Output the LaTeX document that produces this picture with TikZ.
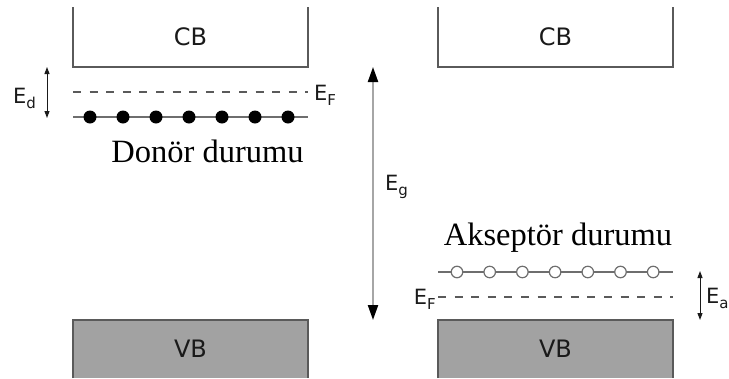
\documentclass[tikz,border=0pt]{standalone}
\usepackage{fontspec}
\setmainfont{Liberation Serif}
\newfontfamily\labelfont{DejaVu Sans}
\usetikzlibrary{arrows.meta}

\definecolor{bandline}{HTML}{5A5A5A}
\definecolor{vbfill}{HTML}{A2A2A2}
\definecolor{levelline}{HTML}{6E6E6E}
\definecolor{txt}{HTML}{1A1A1A}

\newcommand{\lvl}[2]{{\labelfont\fontsize{21}{21}\selectfont #1\raisebox{-5pt}{\fontsize{15}{15}\selectfont #2}}}

\tikzset{
  bandlabel/.style={font=\labelfont\fontsize{24}{24}\selectfont, text=txt, inner sep=0pt},
  openband/.style={draw=bandline, line width=1.4pt},
  fullband/.style={draw=bandline, fill=vbfill, line width=1.2pt},
  fermi/.style={draw=bandline, line width=1.2pt, dash pattern=on 8pt off 8.6pt},
  level/.style={draw=levelline, line width=1.5pt},
  donor/.style={circle, fill=black, minimum size=13pt, inner sep=0pt},
  acceptor/.style={circle, draw=levelline, fill=white, line width=1.2pt, minimum size=11.5pt, inner sep=0pt},
  caption/.style={font=\fontsize{32.5}{32.5}\selectfont, text=black, inner sep=0pt, anchor=base},
  gaparrow/.style={draw=gray!70, line width=2.2pt, {Triangle[black,length=15pt,width=10pt]}-{Triangle[black,length=15pt,width=10pt]}},
  smallarrow/.style={draw=txt, line width=1pt, {Triangle[length=7pt,width=5pt]}-{Triangle[length=7pt,width=5pt]}},
  elabel/.style={text=txt, inner sep=0pt}
}

\begin{document}
\begin{tikzpicture}[x=1pt, y=-1pt]
\useasboundingbox (0,0) rectangle (729,378);

% ---- n-type (donor) side ----
\draw[openband] (73,7) -- (73,67) -- (308,67) -- (308,7);
\node[bandlabel] (cbL) at (190.5,37) {CB};

\coordinate (efLa) at (73,92);
\coordinate (efLb) at (308,92);
\draw[fermi] (efLa) -- (efLb);
\node[elabel, anchor=west] (efL) at (314,95) {\lvl{E}{F}};

\coordinate (dlA) at (73,117);
\coordinate (dlB) at (308,117);
\draw[level] (dlA) -- (dlB);
\foreach \i in {0,...,6}
  \node[donor] (d\i) at (90+33*\i,117) {};

\coordinate (edTop) at (47,67);
\coordinate (edBot) at (47,118);
\draw[smallarrow] (edTop) -- (edBot);
\node[elabel, anchor=west] (ed) at (13,98) {\lvl{E}{d}};

\node[caption] (donorTxt) at (207.5,162) {Donör durumu};

\draw[fullband] (73,378) -- (73,320) -- (308,320) -- (308,378);
\node[bandlabel] (vbL) at (190.5,349) {VB};

% ---- band gap ----
\coordinate (egTop) at (373,67);
\coordinate (egBot) at (373,320);
\draw[gaparrow] (egTop) -- (egBot);
\node[elabel, anchor=west] (eg) at (385,187) {\lvl{E}{g}};

% ---- p-type (acceptor) side ----
\draw[openband] (438,7) -- (438,67) -- (673,67) -- (673,7);
\node[bandlabel] (cbR) at (555.5,37) {CB};

\node[caption] (accTxt) at (558,245) {Akseptör durumu};

\coordinate (alA) at (438,272);
\coordinate (alB) at (673,272);
\draw[level] (alA) -- (alB);
\foreach \i in {0,...,6}
  \node[acceptor] (a\i) at (457+32.7*\i,272) {};

\coordinate (efRa) at (438,297);
\coordinate (efRb) at (673,297);
\draw[fermi] (efRa) -- (efRb);
\node[elabel, anchor=east] (efR) at (436,299) {\lvl{E}{F}};

\coordinate (eaTop) at (700,271);
\coordinate (eaBot) at (700,320);
\draw[smallarrow] (eaTop) -- (eaBot);
\node[elabel, anchor=west] (ea) at (706,298) {\lvl{E}{a}};

\draw[fullband] (438,378) -- (438,320) -- (673,320) -- (673,378);
\node[bandlabel] (vbR) at (555.5,349) {VB};
\end{tikzpicture}
\end{document}
